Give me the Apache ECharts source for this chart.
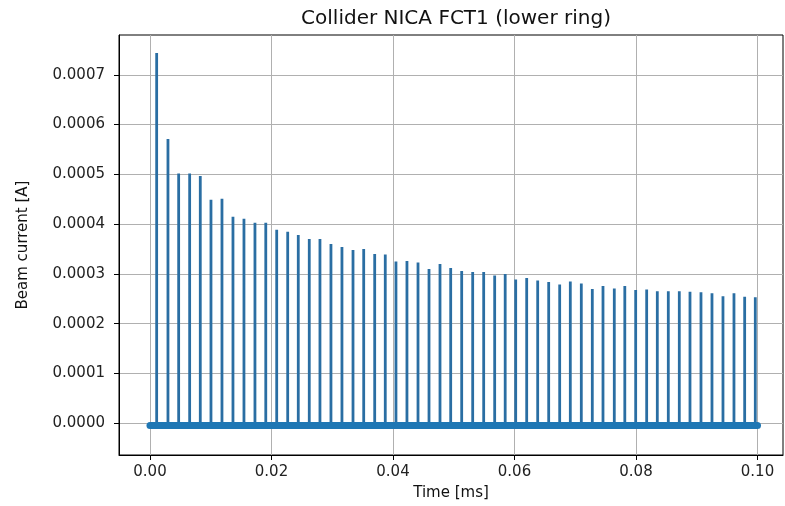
<!DOCTYPE html>
<html>
<head>
<meta charset="utf-8">
<script src="https://cdn.jsdelivr.net/npm/echarts@6/dist/echarts.min.js"></script>
<style>
  html, body { margin: 0; padding: 0; background: #fff; }
  #chart { width: 785px; height: 506px; }
</style>
</head>
<body>
<div id="chart"></div>
<script>
// Bunch arrival times [ms] and peak beam current [A] per bunch passage
const spikeTimes = [
  0.00110, 0.00296, 0.00472, 0.00653, 0.00828, 0.01004, 0.01185, 0.01366,
  0.01547, 0.01728, 0.01906, 0.02086, 0.02267, 0.02441, 0.02622, 0.02798,
  0.02979, 0.03160, 0.03342, 0.03518, 0.03699, 0.03873, 0.04049, 0.04230,
  0.04412, 0.04593, 0.04774, 0.04950, 0.05131, 0.05312, 0.05493, 0.05674,
  0.05847, 0.06020, 0.06201, 0.06382, 0.06563, 0.06744, 0.06919, 0.07100,
  0.07281, 0.07457, 0.07643, 0.07816, 0.07995, 0.08176, 0.08351, 0.08532,
  0.08713, 0.08889, 0.09070, 0.09251, 0.09432, 0.09613, 0.09789, 0.09964
];
const spikeHeights = [
  0.000744, 0.000571, 0.000502, 0.000502, 0.000497, 0.000449, 0.000451, 0.000415,
  0.000411, 0.000403, 0.000403, 0.000389, 0.000385, 0.000378, 0.000370, 0.000370,
  0.000360, 0.000354, 0.000348, 0.000350, 0.000340, 0.000339, 0.000325, 0.000326,
  0.000323, 0.000310, 0.000320, 0.000312, 0.000306, 0.000304, 0.000304, 0.000297,
  0.000300, 0.000289, 0.000292, 0.000287, 0.000284, 0.000279, 0.000285, 0.000281,
  0.000270, 0.000276, 0.000271, 0.000276, 0.000268, 0.000269, 0.000265, 0.000265,
  0.000265, 0.000264, 0.000263, 0.000261, 0.000255, 0.000261, 0.000254, 0.000253
];
// Record span [ms] and signal level between bunches [A]
const recordSpan = [0.0, 0.1];
const baselineLevel = -0.0000045;

// Tick positions
const xTicks = [0, 0.02, 0.04, 0.06, 0.08, 0.1];
const yTicks = [0, 0.0001, 0.0002, 0.0003, 0.0004, 0.0005, 0.0006, 0.0007];

const xLimits = [-0.0051, 0.1042];
const yLimits = [-0.0000637, 0.00078];

// Trace: flat baseline with a narrow pulse at every bunch passage
const trace = [[recordSpan[0], baselineLevel]];
spikeTimes.forEach((t, i) => {
  trace.push([t, baselineLevel], [t, spikeHeights[i]], [t, baselineLevel]);
});
trace.push([recordSpan[1], baselineLevel]);

const FONT = 'DejaVu Sans';
const chart = echarts.init(document.getElementById('chart'), null, { renderer: 'canvas' });

chart.setOption({
  backgroundColor: '#ffffff',
  animation: false,
  title: {
    text: 'Collider NICA FCT1 (lower ring)',
    left: 451, top: 4, textAlign: 'center',
    textStyle: { fontFamily: FONT, fontSize: 20, fontWeight: 'normal', color: '#111' }
  },
  grid: {
    left: 119, right: 2, top: 35, bottom: 51,
    show: true, borderColor: '#000', borderWidth: 1, backgroundColor: 'transparent'
  },
  xAxis: {
    type: 'value',
    min: xLimits[0], max: xLimits[1], splitNumber: 5,
    name: 'Time [ms]', nameLocation: 'middle', nameGap: 31,
    nameTextStyle: { fontFamily: FONT, fontSize: 15, color: '#111' },
    axisLine: { show: true, onZero: false, lineStyle: { color: '#000', width: 1 } },
    axisTick: { show: true, length: 5, inside: false, customValues: xTicks, lineStyle: { color: '#000' } },
    axisLabel: {
      fontFamily: FONT, fontSize: 15, color: '#222', margin: 10,
      customValues: xTicks,
      formatter: v => v.toFixed(2)
    },
    splitLine: { show: true, lineStyle: { color: '#b0b0b0', width: 1 } }
  },
  yAxis: {
    type: 'value',
    min: yLimits[0], max: yLimits[1], splitNumber: 8,
    name: 'Beam current [A]', nameLocation: 'middle', nameGap: 88, nameRotate: 90,
    nameTextStyle: { fontFamily: FONT, fontSize: 15, color: '#111' },
    axisLine: { show: true, onZero: false, lineStyle: { color: '#000', width: 1 } },
    axisTick: { show: true, length: 5, inside: false, customValues: yTicks, lineStyle: { color: '#000' } },
    axisLabel: {
      fontFamily: FONT, fontSize: 15, color: '#222', margin: 14,
      customValues: yTicks,
      formatter: v => v.toFixed(4)
    },
    splitLine: { show: true, lineStyle: { color: '#b0b0b0', width: 1 } }
  },
  series: [
    {
      name: 'FCT1',
      type: 'line',
      data: trace,
      showSymbol: false,
      symbol: 'none',
      lineStyle: { color: '#2a6ea3', width: 2.8, join: 'bevel', cap: 'butt' },
      z: 3
    },
    {
      name: 'baseline',
      type: 'line',
      data: [[recordSpan[0], baselineLevel], [recordSpan[1], baselineLevel]],
      showSymbol: false,
      symbol: 'none',
      lineStyle: { color: '#1f77b4', width: 7, cap: 'round' },
      z: 4
    }
  ]
});
</script>
</body>
</html>
